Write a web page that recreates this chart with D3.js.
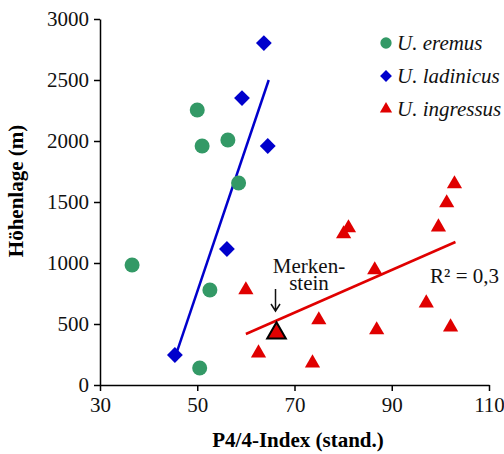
<!DOCTYPE html>
<html>
<head>
<meta charset="utf-8">
<script src="https://cdn.jsdelivr.net/npm/d3@7"></script>
<style>
  body { margin: 0; background: #fff; }
  svg { display: block; font-family: "Liberation Serif", "Times New Roman", serif; }
</style>
</head>
<body>
<div id="chart"></div>
<script>
// U. eremus
const eremusX = [36.6, 50, 51, 56.3, 58.5, 52.6, 50.5];
const eremusY = [984, 2254, 1959, 2008, 1656, 779, 139];
// U. ladinicus
const ladinicusX = [63.7, 59.2, 64.5, 56.1, 45.4];
const ladinicusY = [2803, 2352, 1959, 1115, 246];
// U. ingressus
const ingressusX = [60, 62.6, 73.7, 75, 80.1, 81.1, 86.5, 86.9, 97.1, 99.6, 101.3, 102.1, 102.9];
const ingressusY = [779, 262, 180, 533, 1238, 1287, 943, 451, 672, 1295, 1492, 475, 1648];
// Merkenstein
const merkenstein = { x: 66.3, y: 426 };
// trend lines (end points)
const ladinicusTrend = [[45.8, 270], [64.7, 2500]];
const ingressusTrend = [[60, 418], [103.1, 1172]];

const xTicks = [30, 50, 70, 90, 110];
const yTicks = [0, 500, 1000, 1500, 2000, 2500, 3000];
const legendNames = ["U. eremus", "U. ladinicus", "U. ingressus"];

const green = "#339966", blue = "#0000cc", red = "#e00000";

const width = 504, height = 454;
const svg = d3.select("#chart").append("svg")
    .attr("width", width)
    .attr("height", height);

const x = d3.scaleLinear().domain([30, 110]).range([100, 489]);
const y = d3.scaleLinear().domain([0, 3000]).range([385, 19]);

// Axes
const xAxis = svg.append("g")
    .attr("transform", "translate(0," + y(0) + ")")
    .call(d3.axisBottom(x).tickValues(xTicks).tickFormat(d => d).tickSize(6).tickSizeOuter(0).tickPadding(6));
const yAxis = svg.append("g")
    .attr("transform", "translate(" + x(30) + ",0)")
    .call(d3.axisLeft(y).tickValues(yTicks).tickFormat(d => d).tickSize(6).tickSizeOuter(0).tickPadding(5));

[xAxis, yAxis].forEach(g => {
    g.select(".domain").attr("stroke", "#000").attr("stroke-width", 1.5);
    g.selectAll(".tick line").attr("stroke", "#000").attr("stroke-width", 1.5);
    g.selectAll(".tick text")
        .attr("fill", "#111")
        .style("font-family", "Liberation Serif")
        .style("font-size", "21px");
});

// Axis titles
svg.append("text")
    .attr("x", 298)
    .attr("y", 447)
    .attr("text-anchor", "middle")
    .style("font-weight", "bold")
    .style("font-size", "21px")
    .text("P4/4-Index (stand.)");

svg.append("text")
    .attr("transform", "translate(23,191) rotate(-90)")
    .attr("text-anchor", "middle")
    .style("font-weight", "bold")
    .style("font-size", "21px")
    .text("Höhenlage (m)");

// Trend lines
const line = d3.line().x(d => x(d[0])).y(d => y(d[1]));
svg.append("path").attr("d", line(ladinicusTrend))
    .attr("fill", "none").attr("stroke", blue).attr("stroke-width", 2.5);
svg.append("path").attr("d", line(ingressusTrend))
    .attr("fill", "none").attr("stroke", red).attr("stroke-width", 2.5);

const circle = d3.symbol().type(d3.symbolCircle).size(177);
const diamond = d3.symbol().type(d3.symbolSquare).size(125);
const triangle = d3.symbol().type(d3.symbolTriangle).size(100);

// Points
svg.append("g").selectAll("path")
    .data(d3.zip(eremusX, eremusY))
    .join("path")
    .attr("d", circle)
    .attr("transform", d => "translate(" + x(d[0]) + "," + y(d[1]) + ")")
    .attr("fill", green);

svg.append("g").selectAll("path")
    .data(d3.zip(ladinicusX, ladinicusY))
    .join("path")
    .attr("d", diamond)
    .attr("transform", d => "translate(" + x(d[0]) + "," + y(d[1]) + ") rotate(45)")
    .attr("fill", blue);

svg.append("g").selectAll("path")
    .data(d3.zip(ingressusX, ingressusY))
    .join("path")
    .attr("d", triangle)
    .attr("transform", d => "translate(" + x(d[0]) + "," + y(d[1]) + ")")
    .attr("fill", red);

svg.append("path")
    .attr("d", d3.symbol().type(d3.symbolTriangle).size(150)())
    .attr("transform", "translate(" + x(merkenstein.x) + "," + y(merkenstein.y) + ")")
    .attr("fill", red)
    .attr("stroke", "#000")
    .attr("stroke-width", 2);

// Merkenstein annotation
const mx = x(merkenstein.x) - 1;
svg.append("text").attr("x", 309).attr("y", 273).attr("text-anchor", "middle")
    .style("font-size", "21px").attr("fill", "#111").text("Merken-");
svg.append("text").attr("x", 309).attr("y", 290).attr("text-anchor", "middle")
    .style("font-size", "21px").attr("fill", "#111").text("stein");
svg.append("path")
    .attr("d", "M" + mx + ",289 V311 M" + (mx - 4.5) + ",304 L" + mx + ",311 L" + (mx + 4.5) + ",304")
    .attr("fill", "none").attr("stroke", "#111").attr("stroke-width", 1.5);

// R²
svg.append("text").attr("x", 499).attr("y", 283).attr("text-anchor", "end")
    .style("font-size", "21px").attr("fill", "#111").text("R² = 0,3");

// Legend
const legendSymbols = [
    { sym: d3.symbol().type(d3.symbolCircle).size(100)(), fill: green, rot: 0 },
    { sym: d3.symbol().type(d3.symbolSquare).size(70)(), fill: blue, rot: 45 },
    { sym: d3.symbol().type(d3.symbolTriangle).size(65)(), fill: red, rot: 0 }
];
const legend = svg.append("g");
legendNames.forEach((name, i) => {
    const by = 50 + i * 33;
    legend.append("path")
        .attr("d", legendSymbols[i].sym)
        .attr("transform", "translate(386," + (by - 7) + ") rotate(" + legendSymbols[i].rot + ")")
        .attr("fill", legendSymbols[i].fill);
    legend.append("text")
        .attr("x", 397)
        .attr("y", by)
        .style("font-style", "italic")
        .style("font-size", "21px")
        .attr("fill", "#111")
        .text(name);
});
</script>
</body>
</html>
